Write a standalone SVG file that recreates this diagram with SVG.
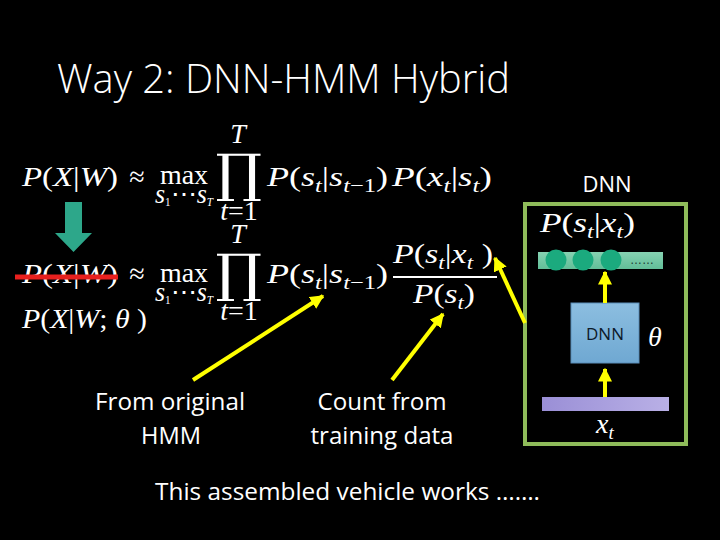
<svg xmlns="http://www.w3.org/2000/svg" width="720" height="540" viewBox="0 0 720 540">
<defs>
<style>
.m{font-family:"Liberation Serif","DejaVu Serif",serif;fill:#fff;font-size:28px}
.i{font-style:italic}
.s{font-size:19px}
.ss{font-size:12px}
.pi{font-family:"DejaVu Serif",serif;fill:#fff;font-size:52px}
.t{font-family:"Open Sans","Liberation Sans",sans-serif;fill:#fff}
.y{stroke:#FFFF00;stroke-width:4;fill:none}
</style>
<marker id="ah" viewBox="0 0 10 10" refX="9" refY="5" markerWidth="14" markerHeight="14" markerUnits="userSpaceOnUse" orient="auto">
<path d="M0,0 L10,5 L0,10 z" fill="#FFFF00"/>
</marker>
<linearGradient id="gb" x1="0" y1="0" x2="0" y2="1"><stop offset="0" stop-color="#8CBEE0"/><stop offset="1" stop-color="#6FA8D2"/></linearGradient>
<linearGradient id="gp" x1="0" y1="0" x2="1" y2="0"><stop offset="0" stop-color="#9A8FD6"/><stop offset="1" stop-color="#B9B0E6"/></linearGradient>
<linearGradient id="gg" x1="0" y1="0" x2="0" y2="1"><stop offset="0" stop-color="#86D2B2"/><stop offset="1" stop-color="#62BE98"/></linearGradient>
</defs>
<rect width="720" height="540" fill="#000"/>

<g id="title"><text class="t" x="57" y="93" font-size="40" font-weight="300" textLength="453" lengthAdjust="spacingAndGlyphs">Way 2: DNN-HMM Hybrid</text></g>

<g id="eq1">
<text class="m" x="22" y="186" textLength="96" lengthAdjust="spacingAndGlyphs"><tspan class="i">P</tspan>(<tspan class="i">X</tspan>|<tspan class="i">W</tspan>)</text>
<text class="m" x="137" y="186" text-anchor="middle">≈</text>
<text class="m" x="184" y="184" text-anchor="middle">max</text>
<text class="m" x="155" y="203" font-size="18" textLength="58" lengthAdjust="spacingAndGlyphs"><tspan class="i">s</tspan><tspan class="ss" dy="3">1</tspan><tspan dy="-3">⋯</tspan><tspan class="i">s</tspan><tspan class="ss i" dy="3">T</tspan></text>
<text class="m i" x="238" y="143" text-anchor="middle" font-size="20">T</text>
<text class="pi" x="239" y="191" text-anchor="middle" transform="translate(239 0) scale(1.12 1) translate(-239 0)">∏</text>
<text class="m" x="239" y="220" text-anchor="middle" font-size="19"><tspan class="i">t</tspan>=1</text>
<text class="m" x="267" y="186" textLength="121" lengthAdjust="spacingAndGlyphs"><tspan class="i">P</tspan>(<tspan class="i">s</tspan><tspan class="s i" dy="6">t</tspan><tspan dy="-6">|</tspan><tspan class="i">s</tspan><tspan class="s" dy="6"><tspan class="i">t</tspan>−1</tspan><tspan dy="-6">)</tspan></text>
<text class="m" x="392" y="186" textLength="100" lengthAdjust="spacingAndGlyphs"><tspan class="i">P</tspan>(<tspan class="i">x</tspan><tspan class="s i" dy="6">t</tspan><tspan dy="-6">|</tspan><tspan class="i">s</tspan><tspan class="s i" dy="6">t</tspan><tspan dy="-6">)</tspan></text>
</g>

<g id="down-arrow"><polygon points="65,202 82,202 82,233 92,233 73.5,252 55,233 65,233" fill="#2DA78A"/></g>

<g id="eq2">
<text class="m" x="22" y="283" textLength="96" lengthAdjust="spacingAndGlyphs"><tspan class="i">P</tspan>(<tspan class="i">X</tspan>|<tspan class="i">W</tspan>)</text>
<line x1="15" y1="277" x2="118" y2="277" stroke="#E8201E" stroke-width="5"/>
<text class="m" x="137" y="283" text-anchor="middle">≈</text>
<text class="m" x="184" y="282" text-anchor="middle">max</text>
<text class="m" x="155" y="301" font-size="18" textLength="58" lengthAdjust="spacingAndGlyphs"><tspan class="i">s</tspan><tspan class="ss" dy="3">1</tspan><tspan dy="-3">⋯</tspan><tspan class="i">s</tspan><tspan class="ss i" dy="3">T</tspan></text>
<text class="m i" x="238" y="243" text-anchor="middle" font-size="20">T</text>
<text class="pi" x="239" y="291" text-anchor="middle" transform="translate(239 0) scale(1.12 1) translate(-239 0)">∏</text>
<text class="m" x="239" y="320" text-anchor="middle" font-size="19"><tspan class="i">t</tspan>=1</text>
<text class="m" x="267" y="283" textLength="121" lengthAdjust="spacingAndGlyphs"><tspan class="i">P</tspan>(<tspan class="i">s</tspan><tspan class="s i" dy="6">t</tspan><tspan dy="-6">|</tspan><tspan class="i">s</tspan><tspan class="s" dy="6"><tspan class="i">t</tspan>−1</tspan><tspan dy="-6">)</tspan></text>
<text class="m" x="393" y="263" textLength="100" lengthAdjust="spacingAndGlyphs"><tspan class="i">P</tspan>(<tspan class="i">s</tspan><tspan class="s i" dy="6">t</tspan><tspan dy="-6">|</tspan><tspan class="i">x</tspan><tspan class="s i" dy="6">t</tspan><tspan dy="-6"> )</tspan></text>
<line x1="393" y1="277" x2="497" y2="277" stroke="#fff" stroke-width="2"/>
<text class="m" x="413" y="303" textLength="62" lengthAdjust="spacingAndGlyphs"><tspan class="i">P</tspan>(<tspan class="i">s</tspan><tspan class="s i" dy="6">t</tspan><tspan dy="-6">)</tspan></text>
<text class="m" x="22" y="328" textLength="125" lengthAdjust="spacingAndGlyphs"><tspan class="i">P</tspan>(<tspan class="i">X</tspan>|<tspan class="i">W</tspan>; <tspan class="i">θ</tspan> )</text>
</g>

<g id="dnn-block">
<text class="t" x="607" y="192" font-size="22" text-anchor="middle">DNN</text>
<rect x="525" y="204" width="161" height="240" fill="none" stroke="#8FBC5A" stroke-width="4"/>
<text class="m" x="540" y="232" textLength="95" lengthAdjust="spacingAndGlyphs"><tspan class="i">P</tspan>(<tspan class="i">s</tspan><tspan class="s i" dy="6">t</tspan><tspan dy="-6">|</tspan><tspan class="i">x</tspan><tspan class="s i" dy="6">t</tspan><tspan dy="-6">)</tspan></text>
<rect x="538" y="252" width="125" height="17" fill="url(#gg)"/>
<circle cx="556" cy="260" r="10.5" fill="#1BAA7E"/>
<circle cx="583" cy="260" r="10.5" fill="#1BAA7E"/>
<circle cx="611" cy="260" r="10.5" fill="#1BAA7E"/>
<text x="642" y="264" font-family="Liberation Sans,sans-serif" font-size="12" fill="#1a3a30" text-anchor="middle">……</text>
<rect x="571" y="303" width="68" height="60" fill="url(#gb)" stroke="#5B8DB8" stroke-width="1"/>
<text x="605" y="340" font-family="Open Sans,Liberation Sans,sans-serif" font-size="17" fill="#0d1a2a" text-anchor="middle">DNN</text>
<text class="m i" x="655" y="346" text-anchor="middle" font-size="26">θ</text>
<rect x="542" y="397" width="127" height="14" fill="url(#gp)"/>
<text class="m" x="596" y="433"><tspan class="i">x</tspan><tspan class="s i" dy="6">t</tspan></text>
</g>

<g id="labels">
<text class="t" x="170" y="410" font-size="24" text-anchor="middle" textLength="150" lengthAdjust="spacingAndGlyphs">From original</text>
<text class="t" x="171" y="444" font-size="24" text-anchor="middle" textLength="60" lengthAdjust="spacingAndGlyphs">HMM</text>
<text class="t" x="382" y="410" font-size="24" text-anchor="middle" textLength="129" lengthAdjust="spacingAndGlyphs">Count from</text>
<text class="t" x="382" y="444" font-size="24" text-anchor="middle" textLength="143" lengthAdjust="spacingAndGlyphs">training data</text>
<text class="t" x="155" y="500" font-size="24" textLength="385" lengthAdjust="spacingAndGlyphs">This assembled vehicle works …….</text>
</g>

<g id="connectors">
<line class="y" x1="193" y1="380" x2="323" y2="296" marker-end="url(#ah)"/>
<line class="y" x1="392" y1="380" x2="443" y2="314" marker-end="url(#ah)"/>
<line class="y" x1="525" y1="323" x2="495" y2="258" marker-end="url(#ah)"/>
<line class="y" x1="605" y1="303" x2="605" y2="272" marker-end="url(#ah)"/>
<line class="y" x1="605" y1="397" x2="605" y2="369" marker-end="url(#ah)"/>
</g>
</svg>
